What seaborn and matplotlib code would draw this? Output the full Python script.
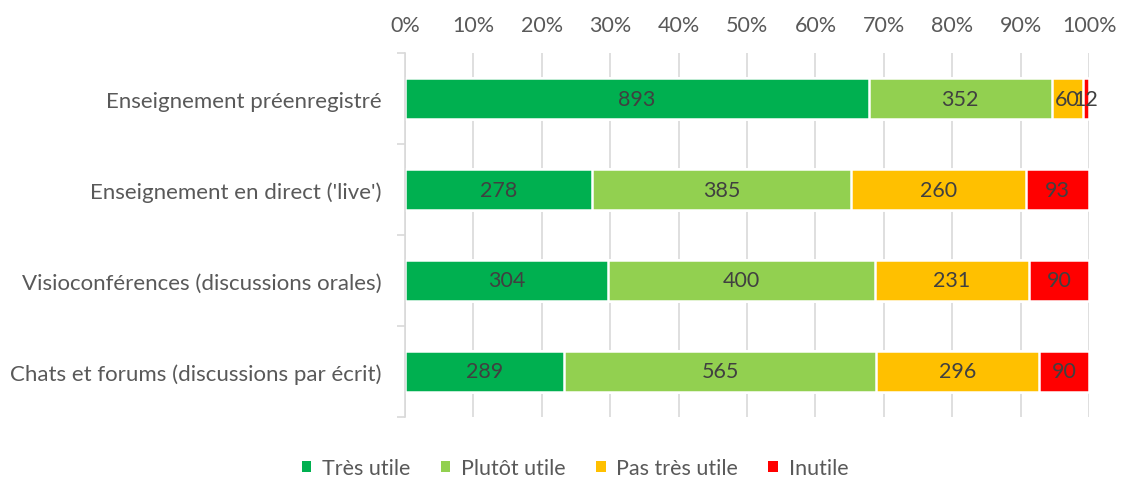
import numpy as np
import matplotlib
matplotlib.use("Agg")
import matplotlib.pyplot as plt
from matplotlib.patches import Patch
from matplotlib.ticker import MultipleLocator, PercentFormatter
import seaborn as sns

categories = [
    "Enseignement préenregistré",
    "Enseignement en direct ('live')",
    "Visioconférences (discussions orales)",
    "Chats et forums (discussions par écrit)",
]
series_names = ["Très utile", "Plutôt utile", "Pas très utile", "Inutile"]
tres_utile = [893, 278, 304, 289]
plutot_utile = [352, 385, 400, 565]
pas_tres_utile = [60, 260, 231, 296]
inutile = [12, 93, 90, 90]
colors = ["#00B050", "#92D050", "#FFC000", "#FF0000"]

sns.set_theme(style="white")
plt.rcParams["font.family"] = ["Lato", "DejaVu Sans"]

counts = np.array([tres_utile, plutot_utile, pas_tres_utile, inutile], dtype=float)
pct = counts / counts.sum(axis=0) * 100
cum = pct.cumsum(axis=0)

fig, ax = plt.subplots(figsize=(11.21, 4.81), dpi=100)
fig.subplots_adjust(left=0.3613, right=0.9715, top=0.8877, bottom=0.131)

ax.set_axisbelow(True)
ax.xaxis.grid(True, color="#D9D9D9", linewidth=1.2)

# stacked bars: draw cumulative totals from the longest down
for i in range(3, -1, -1):
    sns.barplot(x=cum[i], y=categories, orient="h", color=colors[i], saturation=1,
                width=0.45, edgecolor="white", linewidth=1.8, ax=ax)

for i in range(4):
    start = cum[i] - pct[i]
    for j in range(len(categories)):
        ax.text(start[j] + pct[i][j] / 2, j, f"{int(counts[i][j])}", ha="center", va="center",
                fontsize=15.5, color="#404040")

ax.set_xlim(0, 100)
ax.set_ylim(3.5, -0.5)
ax.xaxis.set_major_locator(MultipleLocator(10))
ax.xaxis.set_major_formatter(PercentFormatter(decimals=0))
ax.xaxis.tick_top()
ax.tick_params(axis="x", length=0, pad=13, labelsize=15.5, labelcolor="#595959")
ax.tick_params(axis="y", which="major", length=0, pad=17, labelsize=16, labelcolor="#595959")
ax.set_yticks(np.arange(-0.5, 4, 1), minor=True)
ax.tick_params(axis="y", which="minor", length=6, color="#D9D9D9", width=1.2, left=True)
ax.set_xlabel("")
ax.set_ylabel("")

for s in ["top", "right", "bottom"]:
    ax.spines[s].set_visible(False)
ax.spines["left"].set_color("#D9D9D9")
ax.spines["left"].set_linewidth(1.2)

handles = [Patch(facecolor=c, edgecolor="none") for c in colors]
fig.legend(handles, series_names, loc="center", bbox_to_anchor=(0.513, 0.025), ncol=4,
           frameon=False, fontsize=15.5, handlelength=0.45, handleheight=0.45,
           handletextpad=0.5, columnspacing=1.4, labelcolor="#595959")

fig.savefig("out.png", dpi=100)
